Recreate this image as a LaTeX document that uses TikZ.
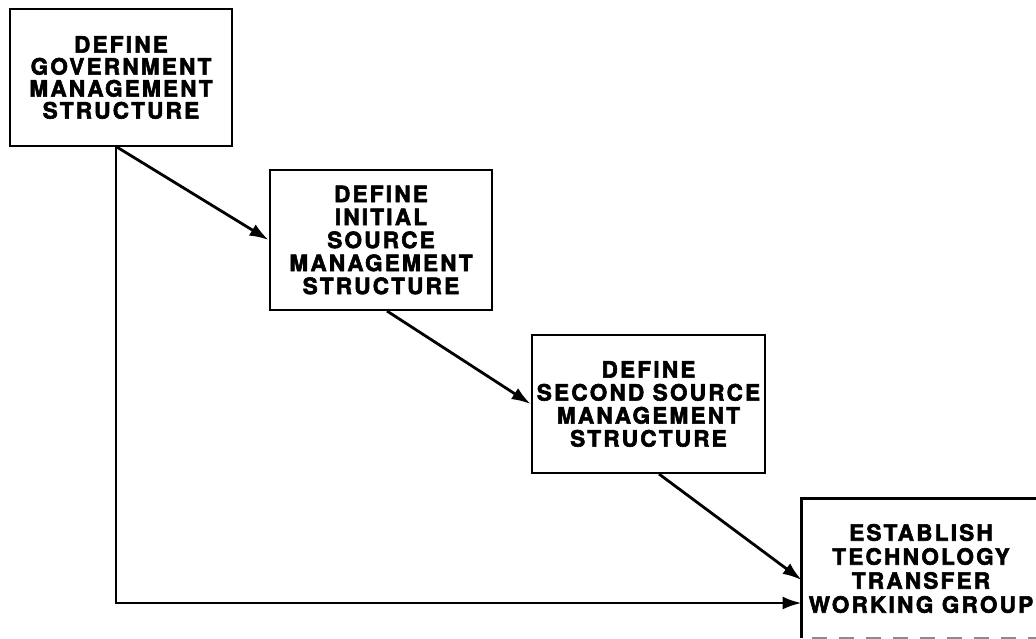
\documentclass[tikz,border=0pt]{standalone}
\usepackage{fontspec}
\newfontfamily\lbl{TeX Gyre Heros}[BoldFeatures={FakeBold=2.6}, LetterSpace=10]
\usetikzlibrary{arrows.meta}
\begin{document}
\begin{tikzpicture}[x=1pt,y=-1pt,
  box/.style={draw, line width=2.8pt, align=center, inner sep=0pt,
    font=\lbl\fontsize{22.5}{23}\selectfont\bfseries},
  link/.style={line width=2.8pt, -{Latex[length=19pt,width=13pt]}},
  torn/.style={line width=2.2pt, draw=black!45, dash pattern=on 15pt off 12pt}]
\useasboundingbox (0,0) rectangle (1036,638);
\clip (0,0) rectangle (1036,638);

% process boxes
\node[box, minimum width=222pt, minimum height=137pt,
      font=\lbl\fontsize{22.5}{22}\selectfont\bfseries] (gov) at (121,77.5)
  {DEFINE\\GOVERNMENT\\MANAGEMENT\\STRUCTURE};
\node[box, minimum width=222pt, minimum height=140pt] (init) at (381,240)
  {DEFINE\\INITIAL\\SOURCE\\MANAGEMENT\\STRUCTURE};
\node[box, minimum width=233pt, minimum height=138pt] (second) at (648.5,404)
  {DEFINE\\SECOND SOURCE\\MANAGEMENT\\STRUCTURE};
\node[box, draw=none, minimum width=236pt, minimum height=137pt,
      font=\lbl\fontsize{22.5}{24}\selectfont\bfseries] (ttwg) at (921,568.5)
  {ESTABLISH\\TECHNOLOGY\\TRANSFER\\WORKING GROUP};
\draw[line width=2.8pt] (ttwg.south west) -- (ttwg.north west) -- (ttwg.north east);
\draw[torn] ([xshift=10pt]ttwg.south west) -- (ttwg.south east);

% connector end points
\coordinate (g1) at (116,146.5);
\coordinate (i1) at (387,311);
\coordinate (s1) at (659,474);
\coordinate (t1) at ([yshift=-11.5pt]ttwg.west);
\coordinate (t2) at ([yshift=-34.5pt]ttwg.west);

% connectors
\draw[link] (g1) -- (init.west);
\draw[link] (i1) -- (second.west);
\draw[link] (s1) -- (t1);
\draw[link] (g1) |- (t2);
\end{tikzpicture}
\end{document}
